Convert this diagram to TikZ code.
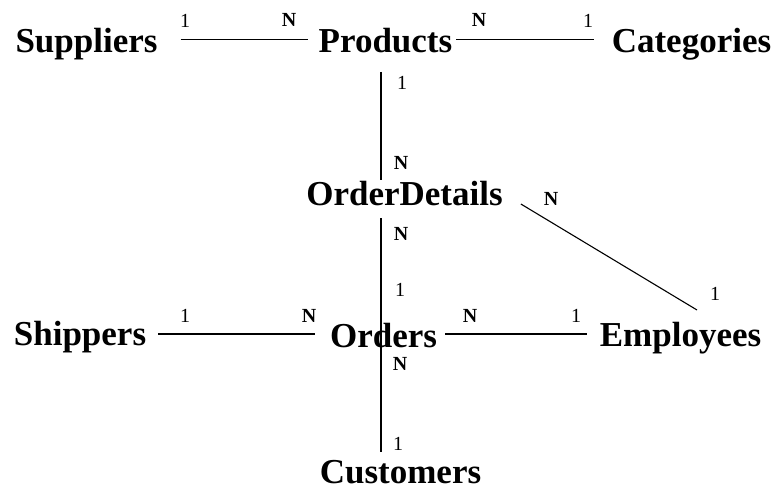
\documentclass[tikz,border=0pt]{standalone}
\usepackage{fontspec}
\setmainfont{Liberation Serif}
\usetikzlibrary{calc}
\tikzset{
  entity/.style={font=\fontsize{35}{35}\selectfont\bfseries, inner sep=0pt, anchor=base},
  cardn/.style={font=\fontsize{20}{20}\selectfont\bfseries, inner sep=0pt, anchor=base},
  cardone/.style={font=\fontsize{20}{20}\selectfont, inner sep=0pt, anchor=base},
  rel/.style={line width=1.1pt}
}
\begin{document}
\begin{tikzpicture}[x=1pt,y=1pt]
\useasboundingbox (0,0) rectangle (774,491);
% entities
\node[entity] (sup)  at (86.5,438) {Suppliers};
\node[entity] (prod) at (385.5,438) {Products};
\node[entity] (cat)  at (691.5,438) {Categories};
\node[entity] (od)   at (404.5,286) {OrderDetails};
\node[entity] (shp)  at (80,146) {Shippers};
\node[entity] (ord)  at (383.5,144) {Orders};
\node[entity] (emp)  at (680.5,145) {Employees};
\node[entity] (cust) at (400.5,8) {Customers};
% connectors
\draw[rel] ($(sup.base east)+(23,13.5)$) -- ($(prod.base west)+(-11,13.5)$);
\draw[rel] ($(prod.base east)+(4,13.5)$) -- ($(cat.base west)+(-18,13.5)$);
\draw[rel] ($(prod.base)+(-4.5,-19)$) -- ($(od.base)+(-23.5,25)$);
\draw[rel] ($(od.base)+(-23.5,-13)$) -- ($(ord.base)+(-2.5,13)$);
\draw[rel] ($(ord.base)+(-2.5,13)$) -- ($(cust.base)+(-19.5,31)$);
\draw[rel] ($(od.base east)+(18,1)$) -- ($(emp.base)+(16.5,36)$);
\draw[rel] ($(shp.base east)+(12,11)$) -- ($(ord.base west)+(-15,13)$);
\draw[rel] ($(ord.base east)+(8,13)$) -- ($(emp.base west)+(-13,12)$);
% cardinalities
\node[cardone] (c1) at (185,463) {1};
\node[cardn]   (c2) at (289,464) {N};
\node[cardn]   (c3) at (479,464) {N};
\node[cardone] (c4) at (588,463) {1};
\node[cardone] (c5) at (402,401) {1};
\node[cardn]   (c6) at (401,322) {N};
\node[cardn]   (c7) at (551,286) {N};
\node[cardn]   (c8) at (401,251) {N};
\node[cardone] (c9) at (400,195) {1};
\node[cardone] (c10) at (715,191) {1};
\node[cardone] (c11) at (185,169) {1};
\node[cardn]   (c12) at (309,169) {N};
\node[cardn]   (c13) at (470,169) {N};
\node[cardone] (c14) at (576,169) {1};
\node[cardn]   (c15) at (400,121) {N};
\node[cardone] (c16) at (398,41) {1};
\end{tikzpicture}
\end{document}
